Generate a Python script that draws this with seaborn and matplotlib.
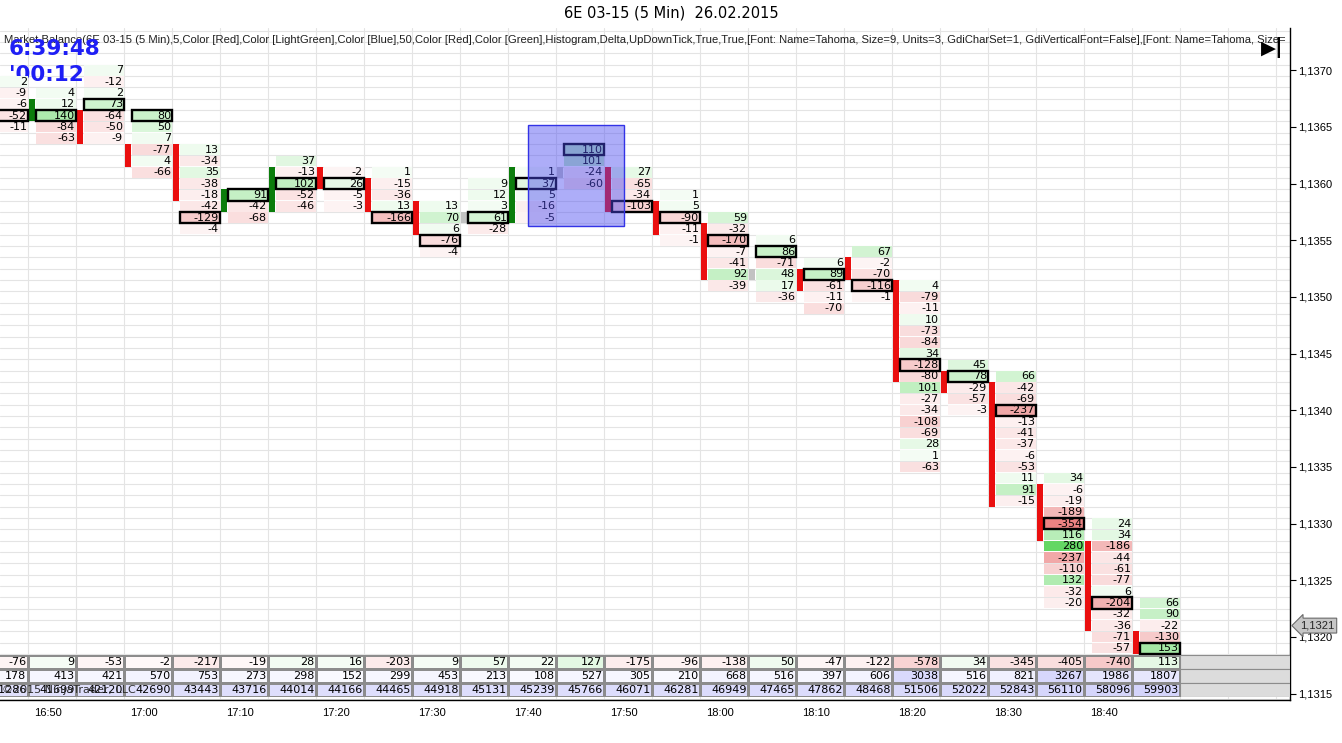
import numpy as np
import pandas as pd
import matplotlib
matplotlib.use("Agg")
import matplotlib.pyplot as plt
from matplotlib.patches import Rectangle
from matplotlib.colors import ListedColormap, to_rgb
from matplotlib.ticker import FuncFormatter
import matplotlib.transforms as mtransforms
import seaborn as sns

# ---------------- data ----------------
bar_times = ["16:45", "16:50", "16:55", "17:00", "17:05", "17:10", "17:15", "17:20",
             "17:25", "17:30", "17:35", "17:40", "17:45", "17:50", "17:55", "18:00",
             "18:05", "18:10", "18:15", "18:20", "18:25", "18:30", "18:35", "18:40", "18:45"]

# highest price level of each footprint column
ladder_top = [1.1369, 1.1368, 1.1370, 1.1366, 1.1363, 1.1359, 1.1362, 1.1361, 1.1361,
              1.1358, 1.1360, 1.1361, 1.1363, 1.1361, 1.1359, 1.1357, 1.1355, 1.1353,
              1.1354, 1.1351, 1.1344, 1.1343, 1.1334, 1.1330, 1.1323]

# delta per price level, top to bottom
ladder_delta = [
    [2, -9, -6, -52, -11],
    [4, 12, 140, -84, -63],
    [7, -12, 2, 73, -64, -50, -9],
    [80, 50, 7, -77, 4, -66],
    [13, -34, 35, -38, -18, -42, -129, -4],
    [91, -42, -68],
    [37, -13, 102, -52, -46],
    [-2, 26, -5, -3],
    [1, -15, -36, 13, -166],
    [13, 70, 6, -76, -4],
    [9, 12, 3, 61, -28],
    [1, 37, 5, -16, -5],
    [110, 101, -24, -60],
    [27, -65, -34, -103],
    [1, 5, -90, -11, -1],
    [59, -32, -170, -7, -41, 92, -39],
    [6, 86, -71, 48, 17, -36],
    [6, 89, -61, -11, -70],
    [67, -2, -70, -116, -1],
    [4, -79, -11, 10, -73, -84, 34, -128, -80, 101, -27, -34, -108, -69, 28, 1, -63],
    [45, 78, -29, -57, -3],
    [66, -42, -69, -237, -13, -41, -37, -6, -53, 11, 91, -15],
    [34, -6, -19, -189, -354, 116, 280, -237, -110, 132, -32, -20],
    [24, 34, -186, -44, -61, -77, 6, -204, -32, -36, -71, -57],
    [66, 90, -22, -130, 153],
]

# boxed (max volume) level, index into the column ladder
poc_row = [3, 2, 3, 0, 6, 0, 2, 1, 4, 3, 3, 1, 0, 3, 2, 2, 1, 1, 3, 7, 1, 3, 4, 7, 4]

# histogram bar beside each column
bar_high = [None, 1.1367, 1.1366, 1.1363, 1.1363, 1.1359, 1.1361, 1.1361, 1.1360, 1.1358,
            1.1357, 1.1361, 1.1361, 1.1361, 1.1358, 1.1356, 1.1352, 1.1352, 1.1353, 1.1351,
            1.1343, 1.1342, 1.1333, 1.1328, 1.1320]
bar_low = [None, 1.1366, 1.1364, 1.1362, 1.1359, 1.1358, 1.1358, 1.1360, 1.1358, 1.1356,
           1.1357, 1.1357, 1.1361, 1.1358, 1.1356, 1.1352, 1.1352, 1.1351, 1.1352, 1.1343,
           1.1342, 1.1332, 1.1329, 1.1321, 1.1319]
bar_dir = [None, "up", "down", "down", "down", "up", "up", "down", "down", "down",
           "flat", "up", "flat", "down", "down", "down", "flat", "down", "down", "down",
           "down", "down", "down", "down", "down"]

table_delta = [-76, 9, -53, -2, -217, -19, 28, 16, -203, 9, 57, 22, 127, -175, -96,
               -138, 50, -47, -122, -578, 34, -345, -405, -740, 113]
table_volume = [178, 413, 421, 570, 753, 273, 298, 152, 299, 453, 213, 108, 527, 305,
                210, 668, 516, 397, 606, 3038, 516, 821, 3267, 1986, 1807]
table_cum_volume = [41286, 41699, 42120, 42690, 43443, 43716, 44014, 44166, 44465, 44918,
                    45131, 45239, 45766, 46071, 46281, 46949, 47465, 47862, 48468, 51506,
                    52022, 52843, 56110, 58096, 59903]

price_ticks = [1.1315, 1.1320, 1.1325, 1.1330, 1.1335, 1.1340, 1.1345, 1.1350, 1.1355,
               1.1360, 1.1365, 1.1370]
last_price = 1.1321
selection_cols = (11, 13)
selection_prices = (1.13563, 1.13652)

title_text = "6E 03-15 (5 Min)  26.02.2015"
indicator_text = ("Market Balance(6E 03-15 (5 Min),5,Color [Red],Color [LightGreen],Color [Blue],50,"
                  "Color [Red],Color [Green],Histogram,Delta,UpDownTick,True,True,[Font: Name=Tahoma, "
                  "Size=9, Units=3, GdiCharSet=1, GdiVerticalFont=False],[Font: Name=Tahoma, Size=")
clock_text = "6:39:48"
countdown_text = "'00:12"
copyright_text = "\u00a92015 NinjaTrader, LLC"

# ---------------- style / layout ----------------
TICK = 0.0001
W, H = 1342, 743
SLOT = 48.0            # pixels per bar slot
OFF = 20 / SLOT        # slot left edge relative to its time tick
AX_R, AX_T, AX_B = 1290, 28, 700

sns.set_theme(style="white")
plt.rcParams["font.family"] = ["DejaVu Sans"]

WHITE = np.array([1.0, 1.0, 1.0])


def blend(base, t):
    t = min(max(t, 0.0), 0.85)
    return tuple(WHITE * (1 - t) + np.array(to_rgb(base)) * t)


def cell_color(v):
    if v >= 0:
        return blend("#28c828", 0.05 + 0.0024 * v)
    return blend("#dc2828", 0.05 + 0.0015 * abs(v))


fig = plt.figure(figsize=(W / 100, H / 100), dpi=100)
fig.patch.set_facecolor("white")
ax = fig.add_axes([0, 1 - AX_B / H, AX_R / W, (AX_B - AX_T) / H])
ax.set_facecolor("white")
ax.set_axisbelow(True)
x_lim = (0, AX_R / SLOT)
y_lim = (1.1315 - (AX_B - 693.6) / 11.33 * TICK, 1.1370 + (70.3 - AX_T) / 11.33 * TICK)

# grid: one row per price tick, one column per bar slot
ax.set_yticks(np.round(np.arange(1.13135, 1.13745, TICK), 5), minor=True)
ax.set_xticks([i - OFF for i in range(0, 29)], minor=True)
ax.grid(which="minor", color="#e4e4e4", lw=0.8)
ax.grid(which="major", visible=False)

# footprint cells
for i, (top, deltas) in enumerate(zip(ladder_top, ladder_delta)):
    x0 = i - OFF + 8 / SLOT
    for k, v in enumerate(deltas):
        p = top - k * TICK
        ax.add_patch(Rectangle((x0, p - 0.46 * TICK), 40 / SLOT, 0.92 * TICK,
                               facecolor=cell_color(v), edgecolor="none", zorder=1))
        ax.text(i - OFF + 47 / SLOT, p, str(v), ha="right", va="center",
                fontsize=8, color="black", zorder=4)
    pp = top - poc_row[i] * TICK
    ax.add_patch(Rectangle((x0, pp - 0.5 * TICK), 40 / SLOT, TICK, facecolor="none",
                           edgecolor="black", lw=1.7, zorder=3))

# histogram bars
bar_colors = {"up": "#0b7d0b", "down": "#ea0f0f", "flat": "#c2c2c2"}
for i, (hi, lo, d) in enumerate(zip(bar_high, bar_low, bar_dir)):
    if d is None:
        continue
    ax.add_patch(Rectangle((i - OFF + 1 / SLOT, lo - 0.5 * TICK), 6 / SLOT,
                           hi - lo + TICK, facecolor=bar_colors[d], edgecolor="none", zorder=2))

# selection rectangle
s0, s1 = selection_cols
ax.add_patch(Rectangle((s0, selection_prices[0]), s1 - s0,
                       selection_prices[1] - selection_prices[0],
                       facecolor=(0.29, 0.29, 0.94, 0.45), edgecolor=(0.2, 0.2, 0.9, 1.0),
                       lw=1.0, zorder=5))

# axes decoration
for side in ("left", "top"):
    ax.spines[side].set_visible(False)
for side in ("right", "bottom"):
    ax.spines[side].set_color("black")
    ax.spines[side].set_linewidth(1.0)
ax.yaxis.tick_right()
ax.set_yticks(price_ticks)
ax.yaxis.set_major_formatter(FuncFormatter(lambda v, _: f"{v:.4f}".replace(".", ",")))
xt = [i for i, t in enumerate(bar_times) if t.endswith("0")]
ax.set_xticks(xt)
ax.set_xticklabels([bar_times[i] for i in xt])
ax.tick_params(which="major", length=4, width=0.8, color="black", labelsize=8,
               labelcolor="black", pad=2)
ax.tick_params(which="minor", length=0)
for lab in ax.get_yticklabels() + ax.get_xticklabels():
    lab.set_family("Liberation Sans")
ax.set_xlim(*x_lim)
ax.set_ylim(*y_lim)

# current price marker
trans = mtransforms.blended_transform_factory(ax.transAxes, ax.transData)
ax.text(1.0 + 10 / AX_R, last_price, f"{last_price:.4f}".replace(".", ","), transform=trans,
        ha="left", va="center", fontsize=8, family="Liberation Sans", clip_on=False,
        bbox=dict(boxstyle="larrow,pad=0.22", fc="#c6c6c6", ec="#6a6a6a", lw=0.8), zorder=6)

# indicator text & clock
ax.text(4 / AX_R, 1 - (40 - AX_T) / (AX_B - AX_T), indicator_text, transform=ax.transAxes,
        ha="left", va="center", fontsize=8.1, family="Liberation Sans", color="#202020",
        clip_on=True, zorder=0.7)
ax.text(9 / AX_R, 1 - (49 - AX_T) / (AX_B - AX_T), clock_text, transform=ax.transAxes,
        ha="left", va="center", fontsize=15.5, fontweight="bold", color="#1e1ef5", zorder=0.8)
ax.text(9 / AX_R, 1 - (75 - AX_T) / (AX_B - AX_T), countdown_text, transform=ax.transAxes,
        ha="left", va="center", fontsize=15.5, fontweight="bold", color="#1e1ef5", zorder=0.8)
fig.text(1268 / W, 1 - 48 / H, "\u25b6", ha="center", va="center", fontsize=14, color="black")
fig.text(1278 / W, 1 - 48 / H, "|", ha="center", va="center", fontsize=15,
         fontweight="bold", color="black")

fig.text(0.5, 1 - 13 / H, title_text, ha="center", va="center", fontsize=10.5, color="black")

# ---------------- bottom table (seaborn heatmap) ----------------
cum_min, cum_max = min(table_cum_volume), max(table_cum_volume)
row1 = [blend("#28c828", 0.04 + 0.0007 * v) if v >= 0 else blend("#dc2828", 0.03 + 0.0003 * abs(v))
        for v in table_delta]
row2 = [blend("#6464f0", 0.03 + 0.00007 * v) for v in table_volume]
row3 = [blend("#6464f0", 0.20 + 0.08 * (v - cum_min) / (cum_max - cum_min)) for v in table_cum_volume]
cell_colors = row1 + row2 + row3
n = len(table_delta)
idx = np.arange(3 * n).reshape(3, n)
labels = np.array([[str(v) for v in table_delta],
                   [str(v) for v in table_volume],
                   [str(v) for v in table_cum_volume]])
table_df = pd.DataFrame(idx, index=["delta", "volume", "cum"], columns=bar_times)

tax = fig.add_axes([-20 / W, 1 - 697 / H, (AX_R + 20) / W, 42 / H])
sns.heatmap(table_df, cmap=ListedColormap(cell_colors), vmin=-0.5, vmax=3 * n - 0.5,
            annot=labels, fmt="", cbar=False, linewidths=0.8, linecolor="#8c8c8c",
            xticklabels=False, yticklabels=False, ax=tax,
            annot_kws=dict(fontsize=8, color="black"))
for t in tax.texts:
    x, y = t.get_position()
    t.set_position((x - 0.5 + 0.97, y))
    t.set_ha("right")
tax.set_xlim(0, (AX_R + 20) / SLOT)
for r in range(3):
    tax.add_patch(Rectangle((n, r), (AX_R + 20) / SLOT - n, 1, facecolor="#dcdcdc",
                            edgecolor="#8c8c8c", lw=0.8, clip_on=True))
tax.axis("off")

fig.text(2 / W, 1 - 690 / H, copyright_text, ha="left", va="center", fontsize=8,
         color="#303030", zorder=10)

fig.savefig("out.png", dpi=100, facecolor="white")
